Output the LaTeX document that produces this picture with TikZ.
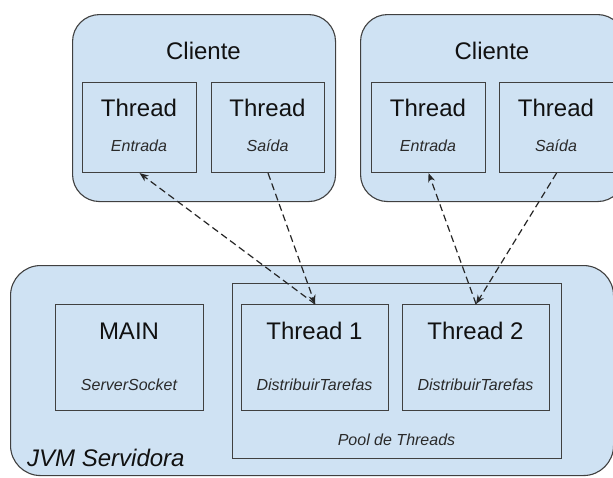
\documentclass[tikz,border=0pt]{standalone}
\usepackage{fontspec}
\setmainfont{Liberation Sans}
\usetikzlibrary{arrows.meta}
\definecolor{boxfill}{HTML}{CFE2F3}
\definecolor{edgecol}{HTML}{404040}
\definecolor{txtcol}{HTML}{111111}
\definecolor{subcol}{HTML}{2A2A2A}
\begin{document}
\begin{tikzpicture}[x=1pt,y=-1pt,
  roundbox/.style={draw=edgecol, fill=boxfill, line width=1.1pt, rounded corners=27pt, inner sep=0pt, anchor=north west},
  sqbox/.style={draw=edgecol, fill=boxfill, line width=1.1pt, inner sep=0pt, anchor=north west},
  bigtxt/.style={font=\fontsize{24}{28}\selectfont, text=txtcol, inner sep=0pt},
  subtxt/.style={font=\fontsize{16}{19}\selectfont\itshape, text=subcol, inner sep=0pt},
  link/.style={draw=black!85, line width=1.2pt, dash pattern=on 7pt off 4pt, -{Stealth[length=9pt,width=7pt]}}
]
\useasboundingbox (0,0) rectangle (613,477);
\fill[white] (0,0) rectangle (613,477);
\clip (0,0) rectangle (613,477);

% Clients
\node[roundbox, minimum width=263pt, minimum height=187pt] (c1) at (72,14) {};
\node[roundbox, minimum width=264pt, minimum height=187pt] (c2) at (360,14) {};
\node[bigtxt] (c1t) at (203.5,51) {Cliente};
\node[bigtxt] (c2t) at (492,51) {Cliente};

\node[sqbox, minimum width=114pt, minimum height=90pt] (e1) at (82,82) {};
\node[sqbox, minimum width=113pt, minimum height=90pt] (s1) at (211,82) {};
\node[sqbox, minimum width=114pt, minimum height=90pt] (e2) at (371,82) {};
\node[sqbox, minimum width=114pt, minimum height=90pt] (s2) at (499,82) {};

\node[bigtxt] (e1t) at (139,108) {Thread};
\node[subtxt] (e1s) at (139,146) {Entrada};
\node[bigtxt] (s1t) at (267.5,108) {Thread};
\node[subtxt] (s1s) at (267.5,146) {Saída};
\node[bigtxt] (e2t) at (428,108) {Thread};
\node[subtxt] (e2s) at (428,146) {Entrada};
\node[bigtxt] (s2t) at (556,108) {Thread};
\node[subtxt] (s2s) at (556,146) {Saída};

% Server
\node[roundbox, rounded corners=30pt, minimum width=603pt, minimum height=210pt] (srv) at (10,265) {};
\node[sqbox, minimum width=148pt, minimum height=106pt] (main) at (55,304) {};
\node[sqbox, minimum width=329pt, minimum height=175pt] (pool) at (232,283) {};
\node[sqbox, minimum width=147pt, minimum height=106pt] (t1) at (241,304) {};
\node[sqbox, minimum width=147pt, minimum height=106pt] (t2) at (402,304) {};

\node[bigtxt] (maint) at (129,331) {MAIN};
\node[subtxt] (mains) at (129,385) {ServerSocket};
\node[bigtxt] (t1t) at (314.5,331) {Thread 1};
\node[subtxt] (t1s) at (314.5,385) {DistribuirTarefas};
\node[bigtxt] (t2t) at (475.5,331) {Thread 2};
\node[subtxt] (t2s) at (475.5,385) {DistribuirTarefas};
\node[subtxt] (poolt) at (396.5,440) {Pool de Threads};
\node[bigtxt, font=\fontsize{24}{28}\selectfont\itshape, anchor=west] (srvt) at (27,457.5) {JVM Servidora};

% Connectors
\draw[link] (t1.north) -- (e1.south);
\draw[link] (s1.south) -- (t1.north);
\draw[link] (t2.north) -- (e2.south);
\draw[link] (s2.south) -- (t2.north);
\end{tikzpicture}
\end{document}
